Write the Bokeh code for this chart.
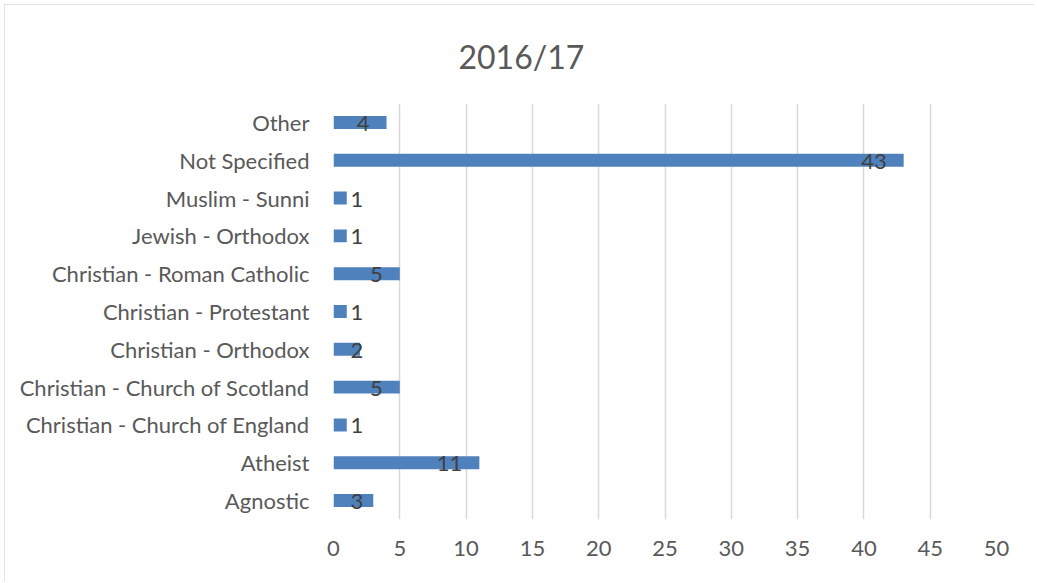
from bokeh.plotting import figure
from bokeh.models import ColumnDataSource, Title, FixedTicker, Range1d
from bokeh.core.properties import value
from bokeh.embed import file_html
from bokeh.resources import INLINE

categories = ["Agnostic", "Atheist", "Christian - Church of England",
              "Christian - Church of Scotland", "Christian - Orthodox",
              "Christian - Protestant", "Christian - Roman Catholic",
              "Jewish - Orthodox", "Muslim - Sunni", "Not Specified", "Other"]
counts = [3, 11, 1, 5, 2, 1, 5, 1, 1, 43, 4]
x_ticks = [0, 5, 10, 15, 20, 25, 30, 35, 40, 45, 50]
title_text = "2016/17"

FONT = "Lato"
BAR = "#4F81BD"
GRID = "#D9D9D9"
FS = "22px"

p = figure(width=1030, height=577, y_range=categories, x_range=Range1d(0, 50),
           output_backend="svg", toolbar_location=None,
           min_border_left=329, min_border_right=38, min_border_top=99,
           min_border_bottom=62, outline_line_color=None,
           background_fill_color="white", border_fill_color="white")

p.title = Title(text=title_text, align="left", offset=125, standoff=55,
                text_font=FONT, text_font_size="32px", text_font_style="normal",
                text_color="#595959")

src = ColumnDataSource(dict(cat=categories, val=counts,
                            lab=[str(v) for v in counts]))
p.hbar(y="cat", right="val", left=0, height=0.343, source=src,
       fill_color=BAR, line_color=None)

# data labels: inside end, or just right of axis for short bars
inside = dict(cat=[], val=[], lab=[])
outside = dict(cat=[], val=[], lab=[])
for c, v in zip(categories, counts):
    d = inside if v >= 4 else outside
    d["cat"].append(c); d["val"].append(v if v >= 4 else 0); d["lab"].append(str(v))
p.text(x="val", y="cat", text="lab", source=ColumnDataSource(inside),
       text_align="right", text_baseline="middle", x_offset=-17, y_offset=1,
       text_font=value(FONT), text_font_size=FS, text_color="#404040")
p.text(x="val", y="cat", text="lab", source=ColumnDataSource(outside),
       text_align="left", text_baseline="middle", x_offset=17, y_offset=1,
       text_font=value(FONT), text_font_size=FS, text_color="#404040")

p.xaxis.ticker = FixedTicker(ticks=x_ticks)
p.xgrid.ticker = FixedTicker(ticks=x_ticks)
p.xgrid.grid_line_color = GRID
p.xgrid.grid_line_width = 1.5
p.ygrid.grid_line_color = None

for ax in (p.xaxis[0], p.yaxis[0]):
    ax.axis_line_color = None
    ax.major_tick_line_color = None
    ax.minor_tick_line_color = None
    ax.major_tick_out = 0
    ax.major_tick_in = 0
    ax.major_label_text_font = FONT
    ax.major_label_text_font_size = FS
    ax.major_label_text_color = "#595959"
p.xaxis.major_label_standoff = 21
p.yaxis.major_label_standoff = 24

p.styles = {"margin-left": "4px", "margin-top": "4px",
            "outline": "1.5px solid #D9D9D9", "outline-offset": "-1px"}

open("out.html", "w").write(file_html(p, INLINE))
